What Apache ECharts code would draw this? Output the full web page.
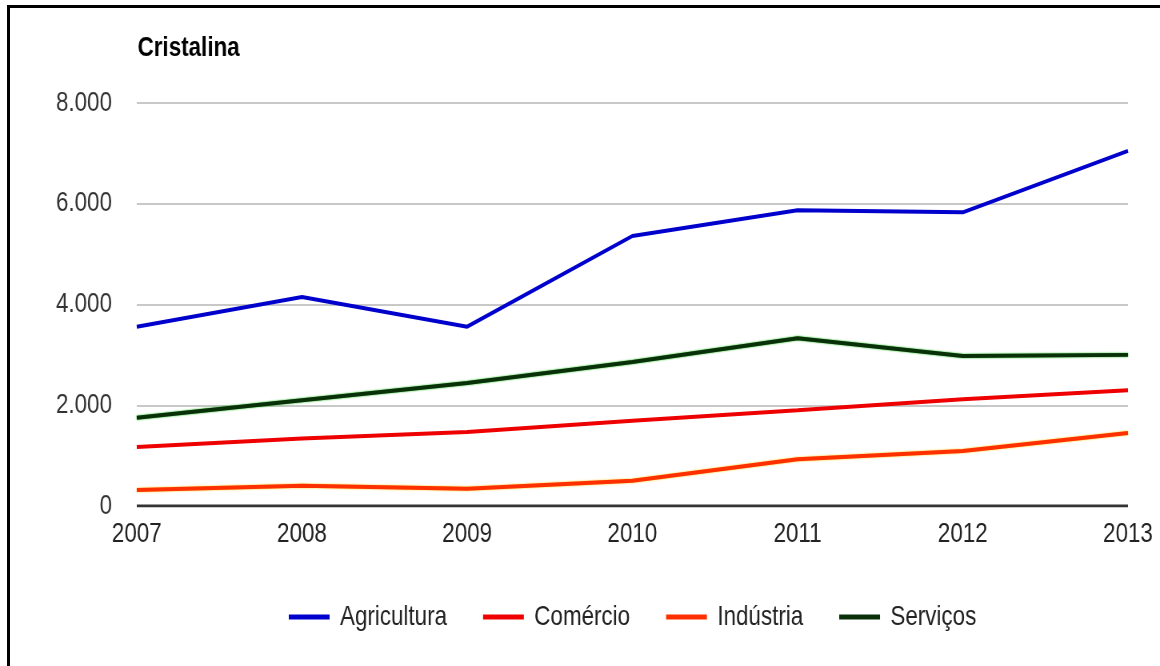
<!DOCTYPE html>
<html><head><meta charset="utf-8">
<script src="https://cdn.jsdelivr.net/npm/echarts@6/dist/echarts.min.js"></script>
<style>
html,body{margin:0;padding:0;background:#fff;overflow:hidden;}
#frame{position:absolute;left:7px;top:5px;width:1160px;height:700px;border-left:3px solid #000;border-top:3px solid #000;}
#chart{position:absolute;left:0;top:0;width:1450px;height:666px;transform:scaleX(0.8);transform-origin:0 0;}
</style></head>
<body>
<div id="frame"></div>
<div id="chart"></div>
<script>
const years = ['2007','2008','2009','2010','2011','2012','2013'];
const agricultura = [3560, 4150, 3560, 5360, 5870, 5830, 7050];
const comercio = [1170, 1340, 1470, 1690, 1900, 2120, 2300];
const industria = [320, 400, 340, 500, 930, 1090, 1450];
const servicos = [1750, 2100, 2440, 2860, 3330, 2980, 3000];
const yTicks = [0, 2000, 4000, 6000, 8000];

const font = "'Liberation Sans', Arial, sans-serif";
const chart = echarts.init(document.getElementById('chart'), null, {renderer:'canvas'});
const mk = (name, data, color, glow) => ({
  name, type:'line', data, symbol:'none', smooth:false,
  lineStyle: glow ? {color, width:4, shadowColor:glow, shadowBlur:2} : {color, width:4},
  itemStyle:{color}
});
chart.setOption({
  animation:false,
  backgroundColor:'transparent',
  title:{text:'Cristalina', left:167, top:29,
    textStyle:{fontFamily:font, fontSize:28, fontWeight:'bold', color:'#000'}},
  grid:{left:171, right:40, top:103, bottom:160, containLabel:false},
  legend:{top:598, left:356, itemWidth:51, itemHeight:5, itemGap:45,
    icon:'rect',
    textStyle:{fontFamily:font, fontSize:28, color:'#222', padding:[0,0,0,8]},
    data:['Agricultura','Comércio','Indústria','Serviços']},
  xAxis:{type:'category', data:years, boundaryGap:false,
    axisLine:{show:false}, axisTick:{show:false},
    axisLabel:{fontFamily:font, fontSize:28, color:'#222', margin:14, showMinLabel:true, showMaxLabel:true}},
  yAxis:{type:'value', min:0, max:8000, interval:2000,
    axisLine:{show:false}, axisTick:{show:false},
    axisLabel:{fontFamily:font, fontSize:28, color:'#333', margin:31,
      formatter:v => yTicks.includes(v) ? (v===0?'0':(v/1000)+'.000') : ''},
    splitLine:{lineStyle:{color:'#c8c8c8', width:2}}},
  series:[
    mk('Agricultura', agricultura, '#0000cc'),
    mk('Comércio', comercio, '#ee0000'),
    mk('Indústria', industria, '#ff3000', '#ffc000'),
    mk('Serviços', servicos, '#0a300a', '#00b000'),
    {type:'line', data:years.map(()=>0), symbol:'none', silent:true,
      lineStyle:{color:'#333', width:3}, z:1, legendHoverLink:false, name:'_axis'}
  ]
});
</script>
</body></html>
